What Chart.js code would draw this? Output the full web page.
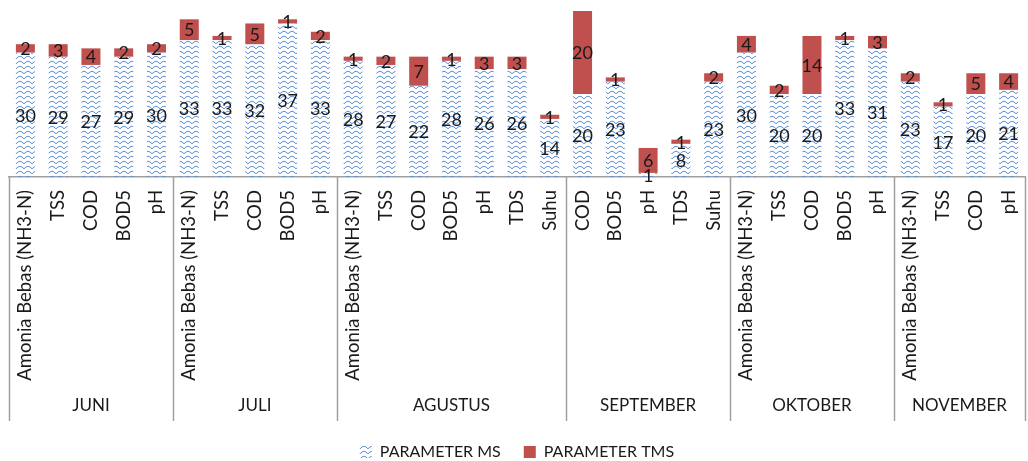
<!DOCTYPE html>
<html>
<head>
<meta charset="utf-8">
<script src="https://cdn.jsdelivr.net/npm/chart.js@4/dist/chart.umd.min.js"></script>
<style>
  html, body { margin: 0; padding: 0; background: #ffffff; }
  #wrap { width: 1028px; height: 461px; }
</style>
</head>
<body>
<div id="wrap"><canvas id="chart" width="1028" height="461"></canvas></div>
<script>
// Parameters measured per month (category labels)
const parameters = [
  'Amonia Bebas (NH3-N)', 'TSS', 'COD', 'BOD5', 'pH',
  'Amonia Bebas (NH3-N)', 'TSS', 'COD', 'BOD5', 'pH',
  'Amonia Bebas (NH3-N)', 'TSS', 'COD', 'BOD5', 'pH', 'TDS', 'Suhu',
  'COD', 'BOD5', 'pH', 'TDS', 'Suhu',
  'Amonia Bebas (NH3-N)', 'TSS', 'COD', 'BOD5', 'pH',
  'Amonia Bebas (NH3-N)', 'TSS', 'COD', 'pH'
];

// Month groups and how many parameters each one holds
const months = ['JUNI', 'JULI', 'AGUSTUS', 'SEPTEMBER', 'OKTOBER', 'NOVEMBER'];
const monthSizes = [5, 5, 7, 5, 5, 4];

// Counts of samples that meet the standard (MS) and do not (TMS)
const parameterMS = [
  30, 29, 27, 29, 30,
  33, 33, 32, 37, 33,
  28, 27, 22, 28, 26, 26, 14,
  20, 23, 1, 8, 23,
  30, 20, 20, 33, 31,
  23, 17, 20, 21
];
const parameterTMS = [
  2, 3, 4, 2, 2,
  5, 1, 5, 1, 2,
  1, 2, 7, 1, 3, 3, 1,
  20, 1, 6, 1, 2,
  4, 2, 14, 1, 3,
  2, 1, 5, 4
];

const FONT = 'Lato, "Liberation Sans", sans-serif';

// Blue wave hatch used for the MS series
function wavePattern() {
  const c = document.createElement('canvas');
  c.width = 8; c.height = 5;
  const g = c.getContext('2d');
  g.strokeStyle = '#5b8fd6';
  g.lineWidth = 1;
  g.beginPath();
  g.moveTo(0, 3.8);
  g.lineTo(2, 2.0);
  g.lineTo(4, 1.2);
  g.lineTo(6, 2.0);
  g.lineTo(8, 3.8);
  g.stroke();
  return g.createPattern(c, 'repeat');
}

// Value labels centred in each bar segment
const valueLabels = {
  id: 'valueLabels',
  afterDatasetsDraw(chart) {
    const ctx = chart.ctx;
    ctx.save();
    ctx.font = '18px ' + FONT;
    ctx.fillStyle = '#1a1a1a';
    ctx.textAlign = 'center';
    ctx.textBaseline = 'middle';
    chart.data.datasets.forEach((ds, di) => {
      const meta = chart.getDatasetMeta(di);
      meta.data.forEach((el, i) => {
        const p = el.getProps(['x', 'y', 'base'], true);
        ctx.fillText(String(ds.data[i]), p.x, (p.y + p.base) / 2 + 1);
      });
    });
    ctx.restore();
  }
};

// Month group separators and month names under the parameter labels
const monthGroups = {
  id: 'monthGroups',
  afterDraw(chart) {
    const x = chart.scales.x;
    const ctx = chart.ctx;
    const step = x.getPixelForTick(1) - x.getPixelForTick(0);
    const edge = (i) => i < parameters.length
      ? x.getPixelForTick(i) - step / 2
      : x.getPixelForTick(parameters.length - 1) + step / 2;
    const top = x.top;
    const bottom = x.bottom;
    ctx.save();
    ctx.strokeStyle = '#a0a0a0';
    ctx.lineWidth = 1.5;
    let start = 0;
    const bounds = [0];
    monthSizes.forEach(n => { start += n; bounds.push(start); });
    bounds.forEach(b => {
      const px = Math.round(edge(b)) + 0.5;
      ctx.beginPath();
      ctx.moveTo(px, top);
      ctx.lineTo(px, bottom);
      ctx.stroke();
    });
    ctx.font = '17px ' + FONT;
    ctx.fillStyle = '#1a1a1a';
    ctx.textAlign = 'center';
    ctx.textBaseline = 'middle';
    months.forEach((m, k) => {
      const cx = (edge(bounds[k]) + edge(bounds[k + 1])) / 2;
      ctx.fillText(m, cx, bottom - 15);
    });
    ctx.restore();
  }
};

const pattern = wavePattern();

new Chart(document.getElementById('chart'), {
  type: 'bar',
  data: {
    labels: parameters,
    datasets: [
      {
        label: 'PARAMETER MS',
        data: parameterMS,
        backgroundColor: pattern,
        borderWidth: 0,
        barPercentage: 0.58,
        categoryPercentage: 1
      },
      {
        label: 'PARAMETER TMS',
        data: parameterTMS,
        backgroundColor: '#c0504d',
        borderWidth: 0,
        barPercentage: 0.58,
        categoryPercentage: 1
      }
    ]
  },
  options: {
    responsive: false,
    animation: false,
    layout: { padding: { left: 9, right: 3, top: 11, bottom: 0 } },
    plugins: {
      legend: {
        position: 'bottom',
        maxHeight: 40,
        labels: {
          color: '#1a1a1a',
          font: { family: FONT, size: 16 },
          boxWidth: 12,
          boxHeight: 12,
          padding: 23
        }
      },
      tooltip: { enabled: false }
    },
    scales: {
      x: {
        stacked: true,
        grid: { display: false, drawTicks: false },
        border: { display: true, color: '#a0a0a0', width: 1.5 },
        ticks: {
          color: '#1a1a1a',
          font: { family: FONT, size: 18.5 },
          minRotation: 90,
          maxRotation: 90,
          autoSkip: false,
          padding: 13
        },
        afterFit(scale) {
          scale.height = 244;
          scale.paddingLeft = 0;
          scale.paddingRight = 0;
        }
      },
      y: {
        stacked: true,
        display: false,
        min: 0,
        max: 40
      }
    }
  },
  plugins: [valueLabels, monthGroups]
});
</script>
</body>
</html>
